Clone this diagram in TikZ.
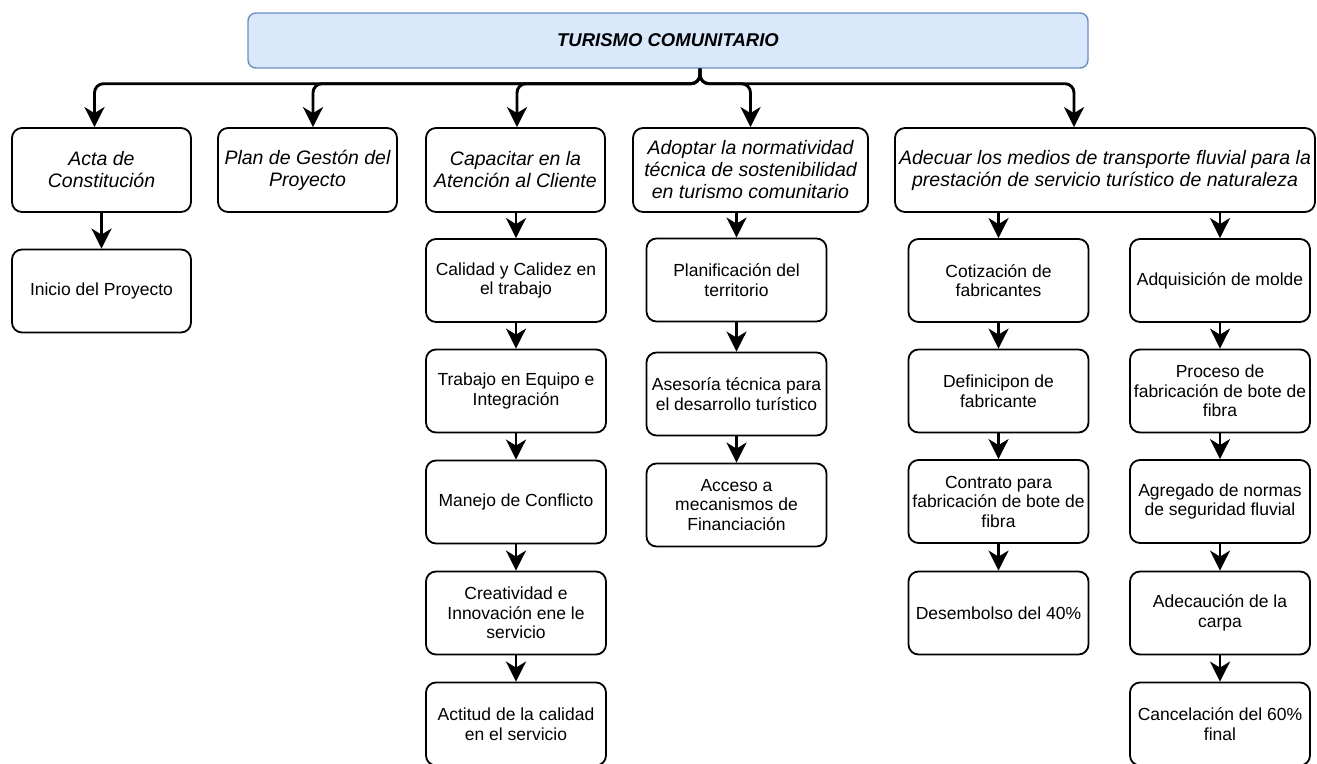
\documentclass[tikz,border=0pt]{standalone}
\usepackage{fontspec}
\setmainfont{Liberation Sans}
\usetikzlibrary{arrows.meta,calc}
\definecolor{titlefill}{HTML}{DAE8FC}
\definecolor{titledraw}{HTML}{6C8EBF}

\begin{document}
\begin{tikzpicture}[x=1pt, y=-1pt,
   base_node_style/.style={draw=black, rounded corners=10pt, line width=1.8pt, align=center, inner sep=2pt, text=black},
   node_style/.style={base_node_style, minimum width=180pt, minimum height=83pt, font=\fontsize{17.5}{19.5}\selectfont},
   head_style/.style={base_node_style, minimum height=84pt, font=\fontsize{19.5}{22}\selectfont\itshape},
   title_style/.style={draw=titledraw, fill=titlefill, rounded corners=8pt, line width=1.4pt, minimum width=840pt, minimum height=55pt, font=\fontsize{18.5}{22}\selectfont\bfseries\itshape},
   edge_style/.style={-{Stealth[length=20pt,width=20pt,inset=6pt]}, line width=2.9pt, draw=black},
   bus_style/.style={edge_style, rounded corners=9pt}]

    \useasboundingbox (0,0) rectangle (1317,763);

    \node[title_style] (turismo) at (668,40.5) {TURISMO COMUNITARIO};
    \coordinate (hub) at ($(turismo.south west)!0.538!(turismo.south east)$);

    % first level
    \node[head_style, minimum width=179pt] (acta) at (101.5,170) {Acta de\\Constitución};
    \node[head_style, minimum width=179pt] (plan) at (307.5,170) {Plan de Gestón del\\Proyecto};
    \node[head_style, minimum width=179pt] (capacitar) at (515.5,170) {Capacitar en la\\Atención al Cliente};
    \node[head_style, minimum width=235pt] (adoptar) at (750.5,170) {Adoptar la normatividad\\técnica de sostenibilidad\\en turismo comunitario};
    \node[head_style, minimum width=420pt] (adecuar) at (1105,170) {Adecuar los medios de transporte fluvial para la\\prestación de servicio turístico de naturaleza};

    % acta
    \node[node_style, minimum width=179pt] (inicio) at (101.5,291) {Inicio del Proyecto};

    % capacitar
    \node[node_style] (calidad) at (516,280.5) {Calidad y Calidez en\\el trabajo};
    \node[node_style] (trabajo) at (516,391) {Trabajo en Equipo e\\Integración};
    \node[node_style] (manejo) at (516,502) {Manejo de Conflicto};
    \node[node_style] (creatividad) at (516,613) {Creatividad e\\Innovación ene le\\servicio};
    \node[node_style] (actitud) at (516,724) {Actitud de la calidad\\en el servicio};

    % adoptar
    \node[node_style] (planificacion) at (736.5,280) {Planificación del\\territorio};
    \node[node_style] (asesoria) at (736.5,394) {Asesoría técnica para\\el desarrollo turístico};
    \node[node_style] (acceso) at (736.5,505) {Acceso a\\mecanismos de\\Financiación};

    % adecuar
    \node[node_style] (cotizacion) at (998.5,280.5) {Cotización de\\fabricantes};
    \node[node_style] (definicion) at (998.5,391) {Definicipon de\\fabricante};
    \node[node_style] (contrato) at (998.5,501.5) {Contrato para\\fabricación de bote de\\fibra};
    \node[node_style] (desembolso) at (998.5,613) {Desembolso del 40\%};

    \node[node_style] (adquisicion) at (1220,280.5) {Adquisición de molde};
    \node[node_style] (proceso) at (1220,391) {Proceso de\\fabricación de bote de\\fibra};
    \node[node_style] (agregado) at (1220,501.5) {Agregado de normas\\de seguridad fluvial};
    \node[node_style] (adecuacion) at (1220,613) {Adecaución de la\\carpa};
    \node[node_style] (cancelacion) at (1220,724) {Cancelación del 60\%\\final};

    \draw[bus_style] (hub) -- ++(0,15) -| ([xshift=-7pt]acta.north);
    \draw[bus_style] (hub) -- ++(0,15) -| ([xshift=5.5pt]plan.north);
    \draw[bus_style] (hub) -- ++(0,15) -| ([xshift=1.5pt]capacitar.north);
    \draw[bus_style] (hub) -- ++(0,15) -| (adoptar.north);
    \draw[bus_style] (hub) -- ++(0,15) -| ([xshift=-31pt]adecuar.north);

    \draw [edge_style](acta.south -| inicio.north) -- (inicio.north);

    \draw [edge_style](capacitar.south -| calidad.north) -- (calidad.north);
    \path [edge_style](calidad) edge (trabajo);
    \path [edge_style](trabajo) edge (manejo);
    \path [edge_style](manejo) edge (creatividad);
    \path [edge_style](creatividad) edge (actitud);

    \draw [edge_style](adoptar.south -| planificacion.north) -- (planificacion.north);
    \path [edge_style](planificacion) edge (asesoria);
    \path [edge_style](asesoria) edge (acceso);

    \draw [edge_style](adecuar.south -| cotizacion.north) -- (cotizacion.north);
    \path [edge_style](cotizacion) edge (definicion);
    \path [edge_style](definicion) edge (contrato);
    \path [edge_style](contrato) edge (desembolso);

    \draw [edge_style](adecuar.south -| adquisicion.north) -- (adquisicion.north);
    \path [edge_style](adquisicion) edge (proceso);
    \path [edge_style](proceso) edge (agregado);
    \path [edge_style](agregado) edge (adecuacion);
    \path [edge_style](adecuacion) edge (cancelacion);
\end{tikzpicture}
\end{document}
